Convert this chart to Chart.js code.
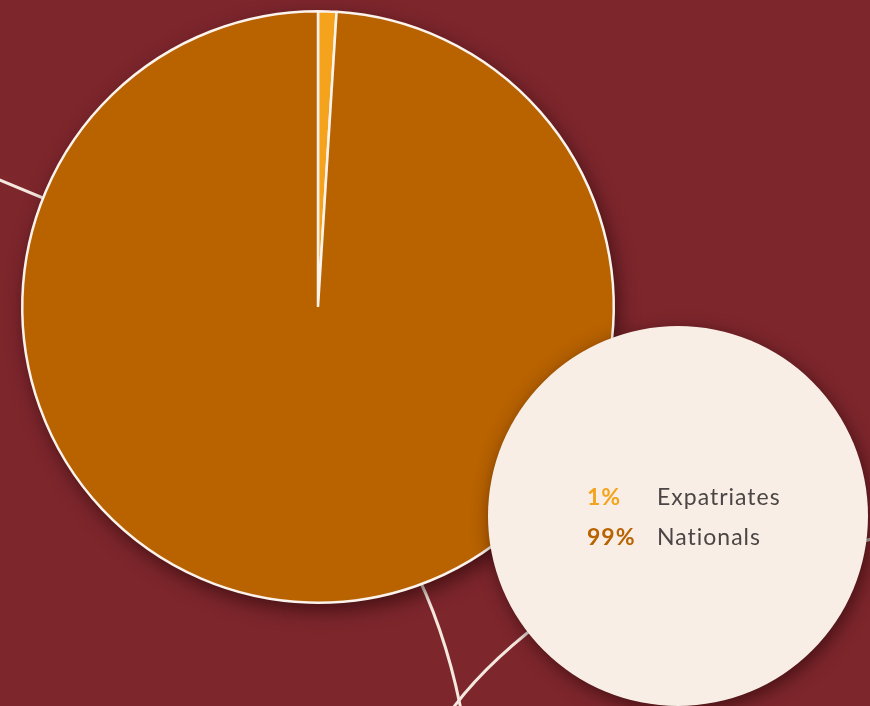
<!DOCTYPE html>
<html>
<head>
<meta charset="utf-8">
<script src="https://cdn.jsdelivr.net/npm/chart.js@4.4.1/dist/chart.umd.min.js"></script>
<style>
  html, body { margin: 0; padding: 0; background: #7d262c; }
  canvas { display: block; }
</style>
</head>
<body>
<canvas id="chart" width="870" height="706"></canvas>
<script>
// Workforce split shown in the pie and the legend bubble
const categories = ['Expatriates', 'Nationals'];
const shares = [1, 99];
const shareLabels = ['1%', '99%'];
const sliceColors = ['#f5a31c', '#b86200'];

const BG = '#7d262c';
const LINE = '#f4e8df';
const BUBBLE = '#f9eee6';

// Background connector lines, the shadowed pie base and the legend bubble
const decor = {
  id: 'decor',
  beforeDraw(chart) {
    const ctx = chart.ctx;
    ctx.save();
    ctx.fillStyle = BG;
    ctx.fillRect(0, 0, chart.width, chart.height);
    ctx.strokeStyle = LINE;
    ctx.lineWidth = 3;
    ctx.lineCap = 'butt';
    // connector on the left
    ctx.beginPath();
    ctx.moveTo(-5, 178);
    ctx.lineTo(120, 230);
    ctx.stroke();
    // connector below the pie
    ctx.beginPath();
    ctx.moveTo(410, 560);
    ctx.quadraticCurveTo(446, 630, 462, 715);
    ctx.stroke();
    // connector towards the bubble
    ctx.beginPath();
    ctx.moveTo(448, 715);
    ctx.quadraticCurveTo(485, 662, 560, 608);
    ctx.stroke();
    // connector at the right edge
    ctx.strokeStyle = '#c9b9b4';
    ctx.beginPath();
    ctx.moveTo(850, 545);
    ctx.lineTo(875, 538);
    ctx.stroke();
    ctx.restore();
  },
  beforeDatasetsDraw(chart) {
    const arc = chart.getDatasetMeta(0).data[0];
    if (!arc) return;
    const ctx = chart.ctx;
    ctx.save();
    ctx.shadowColor = 'rgba(25, 0, 0, 0.6)';
    ctx.shadowBlur = 20;
    ctx.shadowOffsetX = 4;
    ctx.shadowOffsetY = 7;
    ctx.fillStyle = sliceColors[1];
    ctx.beginPath();
    ctx.arc(arc.x, arc.y, arc.outerRadius, 0, Math.PI * 2);
    ctx.fill();
    ctx.restore();
  },
  afterDatasetsDraw(chart) {
    const ctx = chart.ctx;
    const cx = 678, cy = 516, r = 190;
    ctx.save();
    ctx.shadowColor = 'rgba(25, 0, 0, 0.55)';
    ctx.shadowBlur = 18;
    ctx.shadowOffsetX = 3;
    ctx.shadowOffsetY = 5;
    ctx.fillStyle = BUBBLE;
    ctx.beginPath();
    ctx.arc(cx, cy, r, 0, Math.PI * 2);
    ctx.fill();
    ctx.restore();

    ctx.save();
    ctx.textBaseline = 'alphabetic';
    ctx.letterSpacing = '1px';
    categories.forEach((name, i) => {
      const y = cy - 11 + i * 40;
      ctx.font = 'bold 23px Lato';
      ctx.fillStyle = sliceColors[i];
      ctx.fillText(shareLabels[i], cx - 91, y);
      ctx.font = '23px Lato';
      ctx.fillStyle = '#4b4645';
      ctx.fillText(name, cx - 21, y);
    });
    ctx.restore();
  }
};

new Chart(document.getElementById('chart'), {
  type: 'pie',
  data: {
    labels: categories,
    datasets: [{
      data: shares,
      backgroundColor: sliceColors,
      borderColor: '#fbf3ec',
      borderWidth: 2.5
    }]
  },
  options: {
    responsive: false,
    animation: false,
    devicePixelRatio: 1,
    layout: { padding: { left: 21, top: 10, right: 255, bottom: 102 } },
    plugins: {
      legend: { display: false },
      tooltip: { enabled: false },
      title: { display: false }
    }
  },
  plugins: [decor]
});
</script>
</body>
</html>
